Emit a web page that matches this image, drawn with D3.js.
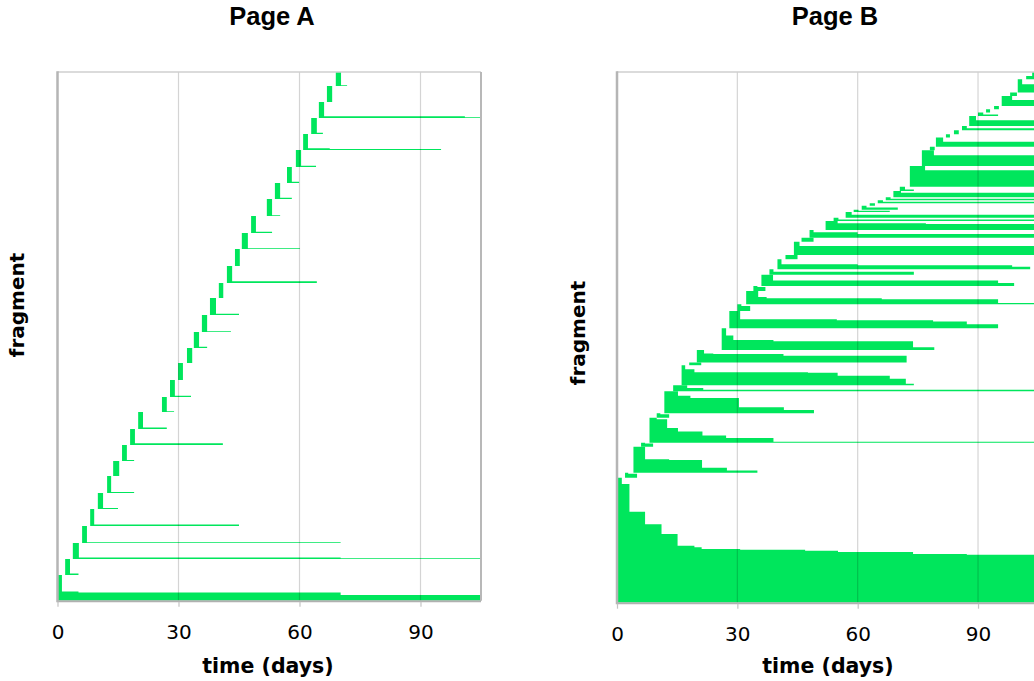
<!DOCTYPE html>
<html><head><meta charset="utf-8">
<script src="https://cdn.jsdelivr.net/npm/d3@7"></script>
<style>
html,body{margin:0;padding:0;background:#fff;overflow:hidden}
svg{display:block}
</style></head><body>
<svg id="chart" width="1034" height="681"></svg>
<script>
// ---------- data ----------
const pageTitles = ["Page A", "Page B"];
const timeDomain = [0, 105];
const timeTicks = [0, 30, 60, 90];
const xAxisLabel = "time (days)";
const yAxisLabel = "fragment";

// each fragment: list of [day, size]; size is the fragment's remaining size from that day on; last entry ends it
const pageAFragments = [
  [[0,25.7],[1.1,9.3],[5.2,8.3],[70.2,5.7],[105,0]],
  [[1.9,16],[3.1,1.5],[5.2,0]],
  [[3.8,16],[5.3,1.6],[70.2,0.7],[105,0]],
  [[6.1,17],[7.3,0.8],[70.2,0]],
  [[8.1,17],[9.1,1.5],[45,0]],
  [[10,16],[11.3,1.1],[15,0]],
  [[12.3,17],[13.3,1],[19,0]],
  [[13.8,15],[15.3,0]],
  [[16,16],[17.2,1],[19,0]],
  [[18,16],[19.2,1.7],[41,0]],
  [[20,17],[21.2,1.5],[27.1,0]],
  [[25.9,15],[27.1,0.8],[28.9,0]],
  [[27.9,17],[29.1,1.2],[33.1,0]],
  [[29.9,17],[31.1,0]],
  [[32.1,15],[33.4,0]],
  [[33.8,16],[35.1,1.2],[37.1,0]],
  [[35.8,17],[37.1,0.8],[43,0]],
  [[37.8,17],[39.3,1.2],[45,0]],
  [[40,15],[41.1,0]],
  [[42,17],[43.3,1.7],[64.3,0]],
  [[44,17],[45.2,0]],
  [[45.7,16],[47.2,0.7],[60.1,0]],
  [[48,17],[49.2,1.2],[53.2,0]],
  [[51.9,17],[53.2,0.8],[55.2,0]],
  [[53.9,16],[55.2,1.2],[58.1,0]],
  [[56.9,16],[58.1,1.2],[59.9,0]],
  [[59.1,17],[60.4,1.2],[64.1,0]],
  [[60.9,16],[62.1,1.7],[67.5,1.1],[95.1,0]],
  [[62.9,16],[64.3,1.2],[65.8,0]],
  [[64.8,16],[66.1,1.7],[101,0.8],[105,0]],
  [[66.8,16],[68.1,0]],
  [[69,16],[70.3,0.8],[71.8,0]]
];

const pageBFragments = [
  [[0,125],[1.2,118.7],[3.1,91],[7,78.4],[11.1,68.7],[15.1,57],[19.3,55.4],[21.1,53.7],[30.7,53],[46.9,52],[55.1,50.7],[73.8,48.7],[87.2,48],[105,0]],
  [[2,5],[2.8,4],[5,0]],
  [[4.1,26],[7,13.5],[13,12.8],[21.2,5],[27.4,2.3],[35,0]],
  [[6,4],[7,3.3],[9,0]],
  [[8.1,25],[9.9,23.5],[12.5,14.7],[15.2,11.3],[21.3,7.3],[27.2,4.6],[39,1],[105,0]],
  [[9.9,4.5],[10.8,3.5],[13,0]],
  [[11.8,22],[15.2,17.5],[18.3,15.3],[30.4,6],[41.6,3.3],[49.1,0]],
  [[14,6],[17.5,3.3],[21.5,1.4],[105,0]],
  [[16.1,20],[17,16],[19.3,13],[47.6,12.5],[55,9.5],[68,6.5],[72,1.5],[74,0]],
  [[18,2.7],[21,0]],
  [[19.9,12.6],[21.7,9],[24,8.5],[41.5,6.7],[72.2,0]],
  [[26.1,21.7],[27.2,14.3],[29,10],[39,8.7],[73.8,2.7],[79.1,0]],
  [[28,17.3],[30.7,9],[54.8,8],[78.8,6.7],[87.2,4],[95,0]],
  [[30,6.7],[31,5],[33.2,0]],
  [[32.2,13.3],[35.2,7.3],[37.3,6],[66,5],[95,1.2],[105,0]],
  [[34,5],[35,4],[37,0]],
  [[36,11.2],[38.9,5.5],[95,3],[99,0]],
  [[38,5.5],[39,3],[74,0]],
  [[40,10],[41,5],[60,4],[98.5,2.5],[103,0]],
  [[42,4.3],[45,0]],
  [[44.1,13.2],[45.5,9],[105,0]],
  [[46,4],[49,0]],
  [[48,7.8],[49,5.5],[60,3.8],[105,0]],
  [[52,9],[55,6.7],[77,5.8],[105,0]],
  [[54,3.2],[55.2,1.5],[105,0]],
  [[57,5.8],[58.5,3],[105,0]],
  [[59,2.2],[60.2,1.2],[68,0]],
  [[61,4],[62.2,2.2],[70,0]],
  [[63,2.5],[64.3,0]],
  [[65,3],[66.3,1.5],[105,0]],
  [[67,3],[68.2,1.5],[105,0]],
  [[68.9,6.3],[70.8,4.5],[105,0]],
  [[70.5,4.2],[71.8,1.5],[74,0]],
  [[73,20.8],[76.8,16.5],[105,0]],
  [[76,15.7],[79,10.7],[105,0]],
  [[78,3.5],[79.2,0]],
  [[79.5,9.2],[81.3,5],[105,0]],
  [[82,3.3],[83,0]],
  [[84,4],[85.2,0]],
  [[86,4.3],[87.2,2],[105,0]],
  [[87.8,10],[89.5,5.7],[105,0]],
  [[90,3.4],[91.3,1.5],[95,0]],
  [[92,3.3],[93,0]],
  [[94,3.3],[95.2,0]],
  [[95.9,10],[98.5,5.8],[105,0]],
  [[98,3.4],[99.7,0]],
  [[99.9,13.3],[101,8.3],[105,0]],
  [[102,3.3],[105,0]],
  [[103.5,5],[105,0]]
];

// ---------- drawing ----------
const svg = d3.select("#chart");
const GREEN = "#00e65c";
const FONT = "'DejaVu Sans', Verdana, sans-serif";

const panels = [
  {id:"A", title:pageTitles[0], fragments:pageAFragments, left:57.5, right:481, top:72, bottom:600.7, yMax:528.7,
   titleX:272, yLabelX:24, yLabelY:305, xLabelX:268, rightBorder:true},
  {id:"B", title:pageTitles[1], fragments:pageBFragments, left:617, right:1038.2, top:72, bottom:602.7, yMax:530.7,
   titleX:835, yLabelX:585, yLabelY:333, xLabelX:828, rightBorder:false}
];

panels.forEach(p => {
  const x = d3.scaleLinear().domain(timeDomain).range([p.left, p.right]);
  const y = d3.scaleLinear().domain([0, p.yMax]).range([p.bottom, p.top]);
  const g = svg.append("g");

  svg.append("clipPath").attr("id", "clip" + p.id).append("rect")
    .attr("x", p.left).attr("y", p.top)
    .attr("width", p.right - p.left).attr("height", p.bottom - p.top);

  // stack fragments: each occupies a slot as tall as its largest size, drawn from the slot bottom
  let base = 0;
  const items = p.fragments.map(f => {
    const b = base;
    base += d3.max(f, d => d[1]);
    return f.map(([t, s]) => ({t, s, base: b}));
  });
  const area = d3.area().curve(d3.curveStepAfter)
    .x(d => x(d.t)).y0(d => y(d.base)).y1(d => y(d.base + d.s));
  g.append("g").attr("clip-path", `url(#clip${p.id})`)
    .selectAll("path").data(items).join("path")
    .attr("d", area).attr("fill", GREEN);

  // gridlines
  g.append("g").selectAll("line").data(timeTicks.filter(t => t > 0)).join("line")
    .attr("x1", d => x(d)).attr("x2", d => x(d))
    .attr("y1", p.top).attr("y2", p.bottom)
    .attr("stroke", "rgba(0,0,0,0.17)").attr("stroke-width", 1.2);

  // frame
  g.append("line").attr("x1", p.left).attr("x2", p.right).attr("y1", p.top).attr("y2", p.top)
    .attr("stroke", "#cfcfcf").attr("stroke-width", 1.5);
  if (p.rightBorder) {
    g.append("line").attr("x1", p.right).attr("x2", p.right).attr("y1", p.top).attr("y2", p.bottom)
      .attr("stroke", "#b8b8b8").attr("stroke-width", 2);
  }
  g.append("line").attr("x1", p.left).attr("x2", p.right).attr("y1", p.bottom + 0.5).attr("y2", p.bottom + 0.5)
    .attr("stroke", "#b0b0b0").attr("stroke-width", 2);
  g.append("line").attr("x1", p.left).attr("x2", p.left).attr("y1", p.top - 0.8).attr("y2", p.bottom + 1.5)
    .attr("stroke", "#b5b5b5").attr("stroke-width", 2.5);

  // x axis
  const axG = g.append("g").attr("transform", `translate(0,${p.bottom + 1})`)
    .call(d3.axisBottom(x).tickValues(timeTicks).tickSize(5).tickFormat(d3.format("d")));
  axG.select(".domain").remove();
  axG.attr("font-family", FONT).attr("font-size", 20);
  axG.selectAll(".tick line").attr("stroke", "#c4c4c4").attr("stroke-width", 1.2);
  axG.selectAll(".tick text").attr("y", 37.5).attr("dy", null).attr("fill", "#000");

  // texts
  svg.append("text").text(p.title)
    .attr("x", p.titleX).attr("y", 25).attr("text-anchor", "middle")
    .attr("font-family", "'Liberation Sans', Arial, sans-serif").attr("font-weight", "bold")
    .attr("font-size", 25.5).attr("fill", "#000");
  svg.append("text").text(xAxisLabel)
    .attr("x", p.xLabelX).attr("y", 673).attr("text-anchor", "middle")
    .attr("font-family", FONT).attr("font-weight", "bold").attr("font-size", 20.5).attr("fill", "#000");
  svg.append("text").text(yAxisLabel)
    .attr("transform", `translate(${p.yLabelX},${p.yLabelY}) rotate(-90)`)
    .attr("text-anchor", "middle")
    .attr("font-family", FONT).attr("font-weight", "bold").attr("font-size", 20).attr("fill", "#000");
});
</script>
</body></html>
